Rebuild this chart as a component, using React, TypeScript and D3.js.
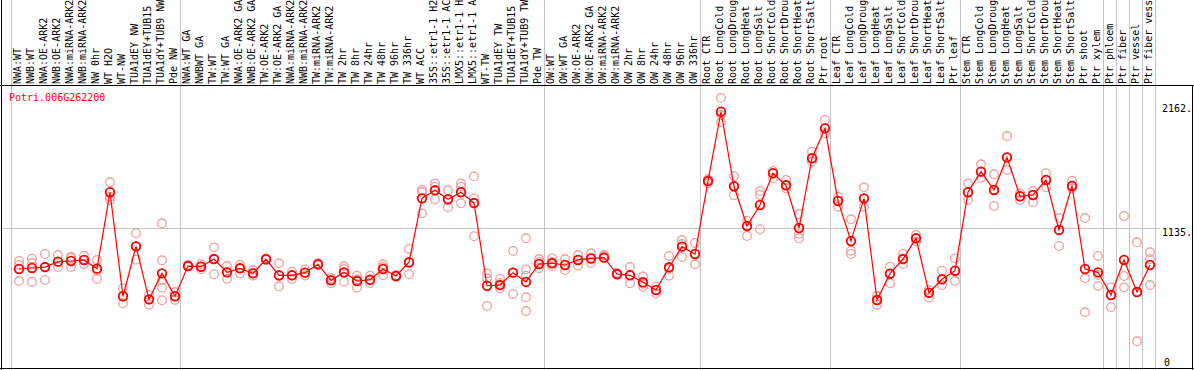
import React from "react";
import * as d3 from "d3";

const title = "Potri.006G262200";

const labels: string[] = [
  "NWA:WT", "NWB:WT", "NWA:OE-ARK2", "NWB:OE-ARK2", "NWA:miRNA-ARK2", "NWB:miRNA-ARK2",
  "NW 0hr", "WT H2O", "WT-NW", "TUA1dEY NW", "TUA1dEY+TUB15 NW", "TUA1dY+TUB9 NW", "Pde NW",
  "NWA:WT GA", "NWBWT GA", "TW:WT", "TW:WT GA", "NWA:OE-ARK2 GA", "NWB:OE-ARK2 GA",
  "TW:OE-ARK2", "TW:OE-ARK2 GA", "NWA:miRNA-ARK2 GA", "NWB:miRNA-ARK2 GA", "TW:miRNA-ARK2",
  "TW:miRNA-ARK2 GA", "TW 2hr", "TW 8hr", "TW 24hr", "TW 48hr", "TW 96hr", "TW 336hr", "WT ACC",
  "35S::etr1-1 H2O", "35S::etr1-1 ACC", "LMX5::etr1-1 H2O", "LMX5::etr1-1 ACC", "WT-TW",
  "TUA1dEY TW", "TUA1dEY+TUB15 TW", "TUA1dY+TUB9 TW", "Pde TW",
  "OW:WT", "OW:WT GA", "OW:OE-ARK2", "OW:OE-ARK2 GA", "OW:miRNA-ARK2", "OW:miRNA-ARK2 GA",
  "OW 2hr", "OW 8hr", "OW 24hr", "OW 48hr", "OW 96hr", "OW 336hr",
  "Root CTR", "Root LongCold", "Root LongDrought", "Root LongHeat", "Root LongSalt",
  "Root ShortCold", "Root ShortDrought", "Root ShortHeat", "Root ShortSalt", "Ptr root",
  "Leaf CTR", "Leaf LongCold", "Leaf LongDrought", "Leaf LongHeat", "Leaf LongSalt",
  "Leaf ShortCold", "Leaf ShortDrought", "Leaf ShortHeat", "Leaf ShortSalt", "Ptr leaf",
  "Stem CTR", "Stem LongCold", "Stem LongDrought", "Stem LongHeat", "Stem LongSalt",
  "Stem ShortCold", "Stem ShortDrought", "Stem ShortHeat", "Stem ShortSalt", "Ptr shoot",
  "Ptr xylem", "Ptr phloem", "Ptr fiber", "Ptr vessel", "Ptr fiber vessel",
];

const means: number[] = [
  777, 786, 794, 841, 847, 856, 780, 1447, 539, 975, 512, 739, 539,
  803, 797, 864, 748, 783, 739, 862, 722, 722, 745, 818, 678, 748, 672, 684, 777, 716, 836,
  1394, 1464, 1386, 1447, 1353, 631, 637, 745, 664, 821,
  827, 812, 856, 869, 876, 733, 722, 661, 594, 792, 972, 908,
  1545, 2150, 1499, 1152, 1336, 1613, 1508, 1135, 1744, 2005,
  1371, 1021, 1394, 506, 736, 864, 1045, 570, 687, 762,
  1447, 1627, 1467, 1752, 1412, 1423, 1554, 1118, 1502, 777,
  748, 550, 856, 576, 812,
];

const replicates: number[][] = [
  [847, 812, 672], [867, 829, 664], [908, 681, 794], [899, 794, 841], [884, 873, 794],
  [893, 821, 856], [856, 762, 690], [1534, 1408, 1379], [609, 478, 539], [1089, 858, 975],
  [550, 465, 512], [1176, 853, 681, 614, 504], [576, 506, 539],
  [812, 803, 799], [818, 774, 797], [966, 731, 864], [803, 692, 751], [815, 739, 786],
  [768, 719, 742], [870, 856, 862], [827, 626, 716], [753, 690, 722], [774, 745, 720],
  [827, 812, 818], [652, 698, 681], [803, 666, 777], [719, 614, 685], [719, 655, 677],
  [818, 722, 794], [716, 725, 707], [952, 731, 829], [1467, 1263, 1449], [1525, 1386, 1496],
  [1464, 1316, 1379], [1525, 1351, 1496, 1449], [1586, 1394, 1063], [739, 454, 696],
  [690, 609, 655], [934, 559, 745], [1045, 774, 719, 530, 410], [864, 783, 838],
  [870, 803, 838], [864, 768, 812], [899, 806, 856], [914, 829, 873], [899, 876, 890],
  [742, 725, 733], [794, 652, 725], [713, 622, 646], [622, 565, 594], [891, 719, 777],
  [1030, 882, 995], [1004, 818, 908],
  [1560, 1525, 1545], [2270, 2058, 2121], [1589, 1421, 1502], [1199, 1065, 1152],
  [1458, 1423, 1124], [1633, 1569, 1613], [1554, 1482, 1508], [1257, 1083, 1045],
  [1801, 1714, 1744], [2078, 1962, 2005],
  [1408, 1321, 1371], [1211, 937, 908], [1490, 1321, 1394], [541, 463, 506], [797, 652, 736],
  [908, 821, 864], [1074, 1015, 1045], [526, 570, 594], [762, 637, 690], [870, 672, 762],
  [1525, 1379, 1447], [1691, 1574, 1627], [1604, 1327, 1467], [1938, 1641, 1752],
  [1438, 1379, 1412], [1458, 1359, 1423], [1613, 1490, 1554], [1222, 978, 1118],
  [1548, 1482, 1502], [1222, 696, 399],
  [891, 725, 629], [617, 443, 550], [1240, 716, 617], [1010, 146, 576], [923, 862, 637],
];

// index of last column of each group (separator after it); -1 = before first
const groupEnds: number[] = [-1, 12, 40, 52, 62, 72, 83, 84, 85, 86, 87];

const yTicks: number[] = [2162, 1135, 0];
const yMax = 2270;

const W = 1194;
const H = 370;
const FONT = "'DejaVu Sans Mono', 'Liberation Mono', monospace";

export default function App() {
  const step = 13;
  const x = d3
    .scaleBand<string>()
    .domain(labels)
    .range([12.5, 12.5 + step * labels.length])
    .paddingInner(0)
    .paddingOuter(0);
  const bw = x.bandwidth();
  const cx = (i: number) => (x(labels[i]) as number) + bw / 2;
  const sepX = (k: number) => 12.5 + step * k + 12;

  const y = d3.scaleLinear().domain([0, yMax]).range([358, 98]);

  const line = d3
    .line<number>()
    .x((_, i) => cx(i))
    .y((d) => y(d));

  const top = 85.5;
  const bottom = 368.5;

  return (
    <svg
      width={W}
      height={H}
      style={{ position: "absolute", left: 0, top: 0, background: "#fff" }}
    >
      <rect x={0} y={0} width={W} height={H} fill="#fff" />
      {/* vertical group separators */}
      {groupEnds.map((k) => (
        <line
          key={"s" + k}
          x1={sepX(k)}
          x2={sepX(k)}
          y1={0}
          y2={H}
          stroke="#c4c4c4"
          strokeWidth={1}
        />
      ))}
      {/* horizontal mid gridline */}
      <line
        x1={1}
        x2={1160}
        y1={Math.round(y(1135)) + 0.5}
        y2={Math.round(y(1135)) + 0.5}
        stroke="#c4c4c4"
        strokeWidth={1}
      />
      {/* frame */}
      <line x1={1.5} x2={1.5} y1={0} y2={H} stroke="#000" strokeWidth={1} />
      <line x1={0} x2={W} y1={top} y2={top} stroke="#000" strokeWidth={1} />
      <line x1={0} x2={W} y1={bottom} y2={bottom} stroke="#000" strokeWidth={1} />
      <line x1={W - 1.5} x2={W - 1.5} y1={top} y2={H} stroke="#000" strokeWidth={1} />

      {/* column labels */}
      {labels.map((l, i) => (
        <text
          key={"l" + i}
          transform={`translate(${cx(i) + 2},84) rotate(-90)`}
          fontFamily={FONT}
          fontSize={10}
          fill="#000"
        >
          {l}
        </text>
      ))}

      {/* title */}
      <text x={9} y={101} fontFamily={FONT} fontSize={10} fill="#ff0000">
        {title}
      </text>

      {/* y labels */}
      {yTicks.map((v, i) => (
        <text
          key={"t" + v}
          x={v === 0 ? 1164 : 1162}
          y={i === 0 ? y(v) + 2 : y(v) + 8}
          fontFamily={FONT}
          fontSize={10}
          fill="#000"
        >
          {v === 0 ? "0" : v + "."}
        </text>
      ))}

      {/* replicates */}
      {replicates.map((reps, i) =>
        reps.map((v, j) => (
          <circle
            key={`r${i}-${j}`}
            cx={cx(i)}
            cy={y(v)}
            r={4.3}
            fill="none"
            stroke="#f0a0a0"
            strokeWidth={1.3}
          />
        ))
      )}

      {/* mean line */}
      <path d={line(means) || ""} fill="none" stroke="#ff0000" strokeWidth={1.2} />

      {/* means */}
      {means.map((v, i) => (
        <circle
          key={"m" + i}
          cx={cx(i)}
          cy={y(v)}
          r={4.3}
          fill="none"
          stroke="#ff0000"
          strokeWidth={1.8}
        />
      ))}
    </svg>
  );
}
